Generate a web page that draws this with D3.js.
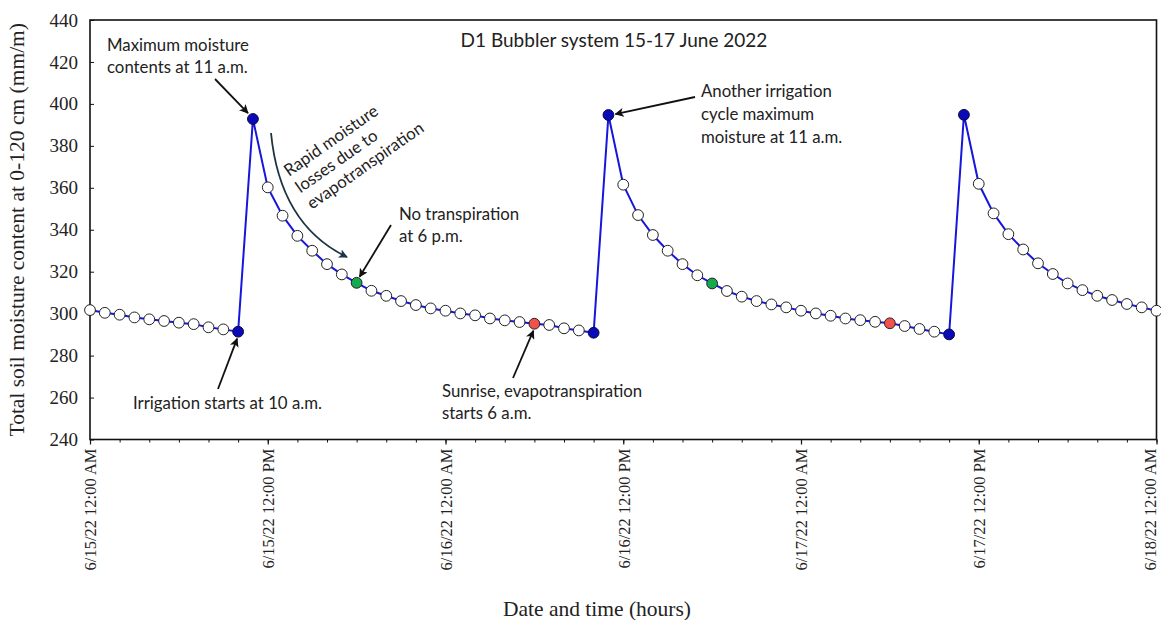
<!DOCTYPE html>
<html>
<head>
<meta charset="utf-8">
<script src="https://cdn.jsdelivr.net/npm/d3@7"></script>
<style>
  html, body { margin: 0; padding: 0; background: #fff; }
  svg { display: block; }
</style>
</head>
<body>
<svg id="chart" width="1161" height="620"></svg>
<script>
// Hourly soil moisture, D1 bubbler system, 15-17 June 2022 (hours from 6/15 00:00)
const hours = d3.range(0, 73);
const moisture = [
  301.7, 300.4, 299.5, 298.2, 297.3, 296.5, 295.7, 295.0, 293.5, 292.5,
  291.4, 392.8, 360.2, 346.7, 337.1, 330.0, 323.6, 318.7, 314.7, 310.9,
  308.5, 306.0, 304.1, 302.5, 301.4, 300.1, 299.2, 297.7, 296.8, 296.0,
  295.2, 294.6, 293.0, 292.0, 290.9, 394.7, 361.5, 347.0, 337.5, 330.0,
  323.6, 318.3, 314.4, 310.8, 308.1, 306.0, 304.4, 303.0, 301.4, 300.1,
  299.0, 297.7, 296.9, 296.1, 295.4, 294.1, 292.7, 291.4, 290.1, 394.8,
  361.9, 347.8, 337.9, 330.6, 324.0, 318.9, 314.4, 311.2, 308.5, 306.5,
  304.6, 303.0, 301.4
];

// Highlighted hours
const irrigationHours = [10, 11, 34, 35, 58, 59];
const noTranspirationHours = [18, 42];
const sunriseHours = [30, 54];

// Axis ticks
const majorTickHours = [0, 12, 24, 36, 48, 60, 72];
const majorTickLabels = [
  "6/15/22 12:00 AM", "6/15/22 12:00 PM", "6/16/22 12:00 AM", "6/16/22 12:00 PM",
  "6/17/22 12:00 AM", "6/17/22 12:00 PM", "6/18/22 12:00 AM"
];
const yTicks = [240, 260, 280, 300, 320, 340, 360, 380, 400, 420, 440];

const titleText = "D1 Bubbler system 15-17 June 2022";
const yLabel = "Total soil moisture content at 0-120 cm (mm/m)";
const xLabel = "Date and time (hours)";

const svg = d3.select("#chart");
const plotLeft = 90, plotRight = 1156.5, plotTop = 20, plotBottom = 439.5;

const x = d3.scaleLinear().domain([0, 72]).range([plotLeft, plotRight]);
const y = d3.scaleLinear().domain([240, 440]).range([plotBottom, plotTop]);

const serif = "'Liberation Serif', 'Times New Roman', serif";
const sans = "Lato, 'Open Sans', sans-serif";
const noteSize = 16.8;

// arrowhead markers
const defs = svg.append("defs");
function arrowMarker(id, color) {
  defs.append("marker")
    .attr("id", id)
    .attr("viewBox", "0 0 10 10")
    .attr("refX", 9).attr("refY", 5)
    .attr("markerWidth", 5).attr("markerHeight", 5)
    .attr("markerUnits", "strokeWidth")
    .attr("orient", "auto")
    .append("path")
    .attr("d", "M0,0 L10,5 L0,10 L2.5,5 Z")
    .attr("fill", color);
}
arrowMarker("arrowBlack", "#111");
arrowMarker("arrowSlate", "#1c3442");

// y axis ticks (inward) and labels
const yAxis = d3.axisLeft(y).tickValues(yTicks).tickSizeInner(-4).tickSizeOuter(0).tickPadding(12);
svg.append("g")
  .attr("transform", `translate(${plotLeft},0)`)
  .call(yAxis)
  .call(g => g.select(".domain").remove())
  .call(g => g.selectAll("line").attr("stroke", "#111").attr("stroke-width", 1))
  .call(g => g.selectAll("text")
    .attr("font-family", serif).attr("font-size", 19).attr("fill", "#222"));

// x axis: minor ticks every 2 h, major ticks every 12 h
const xMinor = d3.axisBottom(x).tickValues(d3.range(0, 73, 2)).tickSize(3).tickFormat("");
svg.append("g")
  .attr("transform", `translate(0,${plotBottom})`)
  .call(xMinor)
  .call(g => g.select(".domain").remove())
  .call(g => g.selectAll("line").attr("stroke", "#111").attr("stroke-width", 1));

const xMajor = d3.axisBottom(x).tickValues(majorTickHours).tickSize(5)
  .tickFormat((d, i) => majorTickLabels[i]);
svg.append("g")
  .attr("transform", `translate(0,${plotBottom})`)
  .call(xMajor)
  .call(g => g.select(".domain").remove())
  .call(g => g.selectAll("line").attr("stroke", "#111").attr("stroke-width", 1.2))
  .call(g => g.selectAll("text")
    .attr("font-family", serif).attr("font-size", 16.5).attr("fill", "#222")
    .attr("text-anchor", "end")
    .attr("transform", "rotate(-90)")
    .attr("x", -9).attr("y", 0)
    .attr("dy", d => d === 72 ? "-0.05em" : "0.35em"));

// plot frame
svg.append("rect")
  .attr("x", plotLeft).attr("y", plotTop)
  .attr("width", plotRight - plotLeft).attr("height", plotBottom - plotTop)
  .attr("fill", "none").attr("stroke", "#111").attr("stroke-width", 1.6);

// title
svg.append("text")
  .attr("x", 614).attr("y", 47)
  .attr("text-anchor", "middle")
  .attr("font-family", sans).attr("font-size", 19).attr("fill", "#222")
  .text(titleText);

// axis titles
svg.append("text")
  .attr("transform", `translate(24,${(plotTop + plotBottom) / 2}) rotate(-90)`)
  .attr("text-anchor", "middle")
  .attr("font-family", serif).attr("font-size", 21.5).attr("fill", "#222")
  .text(yLabel);
svg.append("text")
  .attr("x", 597).attr("y", 616)
  .attr("text-anchor", "middle")
  .attr("font-family", serif).attr("font-size", 21.5).attr("fill", "#222")
  .text(xLabel);

// series line
const points = hours.map((h, i) => ({ h, v: moisture[i] }));
svg.append("path")
  .datum(points)
  .attr("fill", "none")
  .attr("stroke", "#1616dc")
  .attr("stroke-width", 2)
  .attr("d", d3.line().x(d => x(d.h)).y(d => y(d.v)));

function markerFill(h) {
  if (irrigationHours.includes(h)) return "#0a0ab8";
  if (noTranspirationHours.includes(h)) return "#16a94e";
  if (sunriseHours.includes(h)) return "#f2504a";
  return "#ffffff";
}

svg.append("g")
  .selectAll("circle")
  .data(points)
  .join("circle")
  .attr("cx", d => x(d.h))
  .attr("cy", d => y(d.v))
  .attr("r", 5.4)
  .attr("fill", d => markerFill(d.h))
  .attr("stroke", d => irrigationHours.includes(d.h) ? "#0a0a40" : "#222")
  .attr("stroke-width", 1);

// annotations
function note(lines, xPos, yPos, lineGap) {
  const t = svg.append("text")
    .attr("font-family", sans).attr("font-size", noteSize).attr("fill", "#222");
  lines.forEach((s, i) => t.append("tspan").attr("x", xPos).attr("y", yPos + i * lineGap).text(s));
  return t;
}
function arrow(x1, y1, x2, y2) {
  svg.append("line")
    .attr("x1", x1).attr("y1", y1).attr("x2", x2).attr("y2", y2)
    .attr("stroke", "#111").attr("stroke-width", 1.8)
    .attr("marker-end", "url(#arrowBlack)");
}

note(["Maximum moisture", "contents at 11 a.m."], 107, 51, 22);
arrow(215, 79, x(11) - 5, y(moisture[11]) - 6);

note(["Irrigation starts at 10 a.m."], 133, 409, 22);
arrow(218, 389, x(10) - 1, y(moisture[10]) + 7);

note(["No transpiration", "at 6 p.m."], 399, 220, 22);
arrow(391, 225, x(18) + 3, y(moisture[18]) - 6);

note(["Sunrise, evapotranspiration", "starts 6 a.m."], 442, 397, 22);
arrow(513, 378, x(30) - 1, y(moisture[30]) + 7);

note(["Another irrigation", "cycle maximum", "moisture at 11 a.m."], 701, 97, 23);
arrow(695, 97, x(35) + 7, y(moisture[35]) - 1);

// rotated note with curved arrow
const rot = svg.append("text")
  .attr("transform", "translate(289,177) rotate(-35)")
  .attr("font-family", sans).attr("font-size", noteSize).attr("fill", "#222");
["Rapid moisture", "losses due to", "evapotranspiration"].forEach((s, i) =>
  rot.append("tspan").attr("x", 0).attr("y", i * 20).text(s));

svg.append("path")
  .attr("d", "M271,133 Q280,225 347,257")
  .attr("fill", "none")
  .attr("stroke", "#1c3442").attr("stroke-width", 1.8)
  .attr("marker-end", "url(#arrowSlate)");
</script>
</body>
</html>
